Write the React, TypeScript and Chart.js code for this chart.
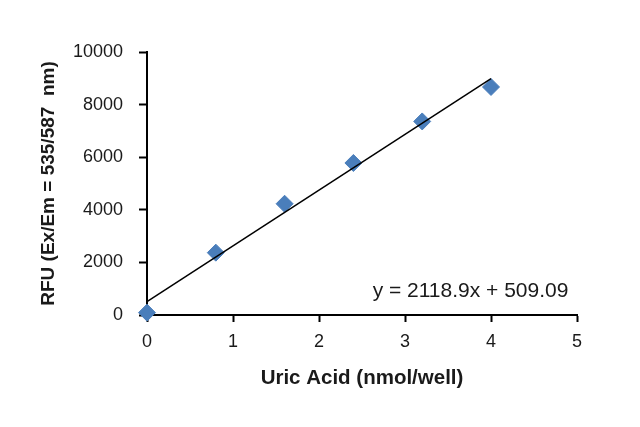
import React, { useEffect, useRef } from "react";
import { Chart, registerables } from "chart.js";

Chart.register(...registerables);

// Data
const uricAcid: number[] = [0, 0.8, 1.6, 2.4, 3.2, 4];
const rfu: number[] = [90, 2370, 4230, 5780, 7360, 8670];

// Trendline endpoints (y = 2118.9x + 509.09)
const trendX: number[] = [0, 4];
const trendY: number[] = [509.09, 8984.69];

const equationText = "y = 2118.9x + 509.09";
const xTitle = "Uric Acid (nmol/well)";
const yTitle = "RFU (Ex/Em = 535/587  nm)";
const xTicks: number[] = [0, 1, 2, 3, 4, 5];
const yTicks: number[] = [0, 2000, 4000, 6000, 8000, 10000];

const FONT = "'Liberation Sans', Arial, Helvetica, sans-serif";

const equationPlugin = {
  id: "equationLabel",
  afterDatasetsDraw(chart: any) {
    const { ctx, scales } = chart;
    const x = scales.x.getPixelForValue(4.9);
    const y = scales.y.getPixelForValue(700);
    ctx.save();
    ctx.font = `21px ${FONT}`;
    ctx.fillStyle = "#1a1a1a";
    ctx.textAlign = "right";
    ctx.textBaseline = "alphabetic";
    ctx.fillText(equationText, x, y);
    ctx.restore();
  },
};

export default function App() {
  const canvasRef = useRef<HTMLCanvasElement | null>(null);

  useEffect(() => {
    document.body.style.margin = "0";
    const canvas = canvasRef.current;
    if (!canvas) return;
    const chart = new Chart(canvas, {
      type: "scatter",
      data: {
        datasets: [
          {
            type: "line",
            label: "Trend",
            data: trendX.map((x, i) => ({ x, y: trendY[i] })),
            borderColor: "#000000",
            borderWidth: 1.5,
            pointRadius: 0,
            fill: false,
            clip: false,
            order: 0,
          },
          {
            label: "Uric Acid",
            data: uricAcid.map((x, i) => ({ x, y: rfu[i] })),
            pointStyle: "rectRot",
            pointRadius: 8.5,
            pointBackgroundColor: "#4A7EBB",
            pointBorderColor: "#4A7EBB",
            pointBorderWidth: 1,
            clip: false,
            order: 1,
          },
        ],
      },
      options: {
        responsive: false,
        animation: false,
        layout: { padding: { top: 52, right: 63, bottom: 0, left: 0 } },
        plugins: {
          legend: { display: false },
          tooltip: { enabled: false },
        },
        scales: {
          x: {
            type: "linear",
            min: 0,
            max: 5,
            afterBuildTicks(scale: any) {
              scale.ticks = xTicks.map((v) => ({ value: v }));
            },
            afterFit(scale: any) {
              scale.height = 112;
              scale.paddingLeft = 0;
              scale.paddingRight = 0;
            },
            grid: {
              drawOnChartArea: false,
              drawTicks: true,
              tickLength: 7,
              tickWidth: 2,
              tickColor: "#000000",
            },
            border: { display: true, color: "#000000", width: 2 },
            ticks: {
              padding: 9,
              color: "#1a1a1a",
              font: { family: FONT, size: 18 },
            },
            title: {
              display: true,
              text: xTitle,
              color: "#1a1a1a",
              font: { family: FONT, size: 20.5, weight: "bold" },
              padding: { top: 0, bottom: 36 },
            },
          },
          y: {
            type: "linear",
            min: 0,
            max: 10000,
            afterBuildTicks(scale: any) {
              scale.ticks = yTicks.map((v) => ({ value: v }));
            },
            afterFit(scale: any) {
              scale.width = 147;
              scale.paddingTop = 0;
              scale.paddingBottom = 0;
            },
            grid: {
              drawOnChartArea: false,
              drawTicks: true,
              tickLength: 8,
              tickWidth: 2,
              tickColor: "#000000",
            },
            border: { display: true, color: "#000000", width: 2 },
            ticks: {
              padding: 16,
              color: "#1a1a1a",
              font: { family: FONT, size: 18 },
              callback: (v: any) => String(v),
            },
            title: {
              display: true,
              text: yTitle,
              color: "#1a1a1a",
              font: { family: FONT, size: 19, weight: "bold" },
              padding: { top: 37, bottom: 0 },
            },
          },
        },
      },
      plugins: [equationPlugin],
    } as any);
    return () => chart.destroy();
  }, []);

  return (
    <div style={{ width: 640, height: 427, background: "#ffffff" }}>
      <canvas ref={canvasRef} width={640} height={427} />
    </div>
  );
}
